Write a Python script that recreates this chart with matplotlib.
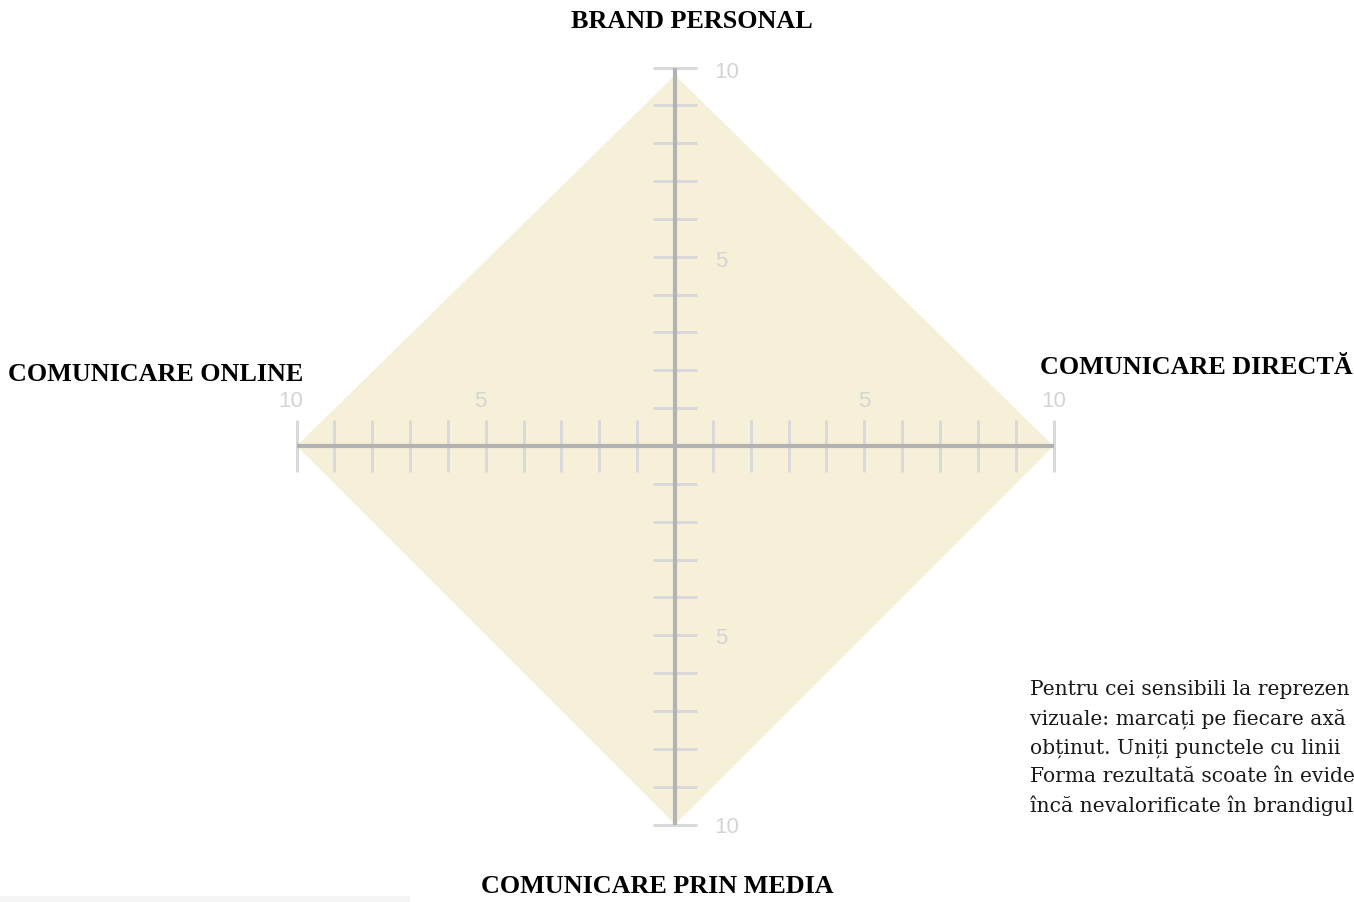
import matplotlib.pyplot as plt
from matplotlib.patches import Rectangle

# scores on each axis (top, right, bottom, left)
axis_names = ['BRAND PERSONAL', 'COMUNICARE DIRECTĂ', 'COMUNICARE PRIN MEDIA', 'COMUNICARE ONLINE']
scores = [9.8, 10, 10, 10]
ticks = list(range(1, 11))
labelled = [5, 10]
# paragraph as visible in the reference (cut at the right edge there)
note_lines = [
    'Pentru cei sensibili la reprezen',
    'vizuale: marcați pe fiecare axă',
    'obținut. Uniți punctele cu linii',
    'Forma rezultată scoate în evide',
    'încă nevalorificate în brandigul',
]

W, H = 1354, 903
cx, cy, unit = 675, 447, 37.85

fig = plt.figure(figsize=(W / 100, H / 100), dpi=100)
ax = fig.add_axes([0, 0, 1, 1])
ax.set_xlim(-cx / unit, (W - cx) / unit)
ax.set_ylim(-(H - cy) / unit, cy / unit)
ax.axis('off')

# the shape
top, right, bottom, left = scores
ax.fill([0, right, 0, -left], [top, 0, -bottom, 0], color='#f7f0d9', lw=0, zorder=1)

# tick marks
tick_c = '#d9d9d9'
half = 0.58
for t in ticks:
    for s in (1, -1):
        ax.plot([-half, half], [s * t, s * t], color=tick_c, lw=2.2, zorder=2, solid_capstyle='butt')
        ax.plot([s * t, s * t], [-half - 0.1, half + 0.1], color=tick_c, lw=2.2, zorder=2, solid_capstyle='butt')

# main axes
ax.plot([0, 0], [-10, 10], color='#b3b3b3', lw=3, zorder=3, solid_capstyle='butt')
ax.plot([-10, 10], [0, 0], color='#b3b3b3', lw=3, zorder=3, solid_capstyle='butt')

num = dict(color='#d4d4d4', fontsize=16, family='Liberation Sans')
for v in labelled:
    ax.text(1.05, v - 0.1, str(v), ha='left', va='center', **num)
    ax.text(1.05, -v - 0.05, str(v), ha='left', va='center', **num)
    ax.text(v, 1.2, str(v), ha='center', va='center', **num)
    ax.text(-v - 0.15, 1.2, str(v), ha='center', va='center', **num)

lab = dict(fontsize=18.8, fontweight='bold', family='Liberation Serif', color='black')
fig.text(692 / W, 1 - 22 / H, axis_names[0], ha='center', va='center', **lab)
fig.text(1040 / W, 1 - 368 / H, axis_names[1], ha='left', va='center', **lab)
fig.text(657 / W, 1 - 887 / H, axis_names[2], ha='center', va='center', **lab)
fig.text(8 / W, 1 - 375 / H, axis_names[3], ha='left', va='center', **lab)

for i, line in enumerate(note_lines):
    fig.text(1030 / W, 1 - (690 + i * 29) / H, line, ha='left', va='center',
             fontsize=14.6, family='DejaVu Serif', color='#1a1a1a')

# faint strip at the bottom left
fig.patches.append(Rectangle((0, 0), 410 / W, 6 / H, transform=fig.transFigure,
                             color='#f5f5f5', lw=0))

fig.savefig('out.png', dpi=100)
